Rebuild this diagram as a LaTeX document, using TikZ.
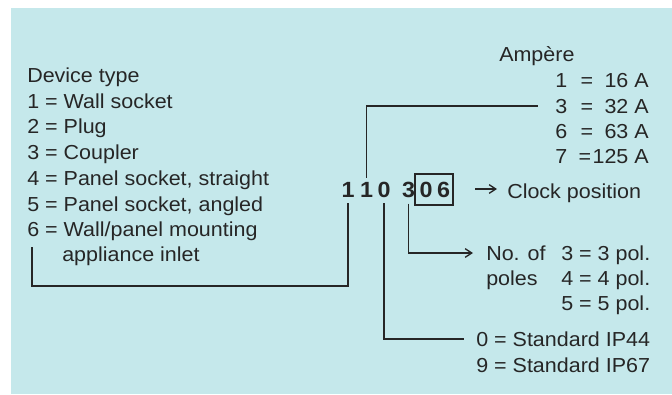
\documentclass[tikz,border=0pt]{standalone}
\usepackage{fontspec}
\setmainfont{Liberation Sans}[FakeStretch=1.06]
\usetikzlibrary{arrows.meta}
\definecolor{bg}{RGB}{197,232,235}
\definecolor{ink}{RGB}{38,38,38}
\begin{document}
\begin{tikzpicture}[x=0.75pt,y=-0.75pt,
  txt/.style={anchor=base west, inner sep=0pt, font=\fontsize{15.2}{18}\selectfont, text=ink},
  txtr/.style={txt, anchor=base east},
  txtc/.style={txt, anchor=base},
  dig/.style={anchor=base, inner sep=0pt, font=\fontsize{16.5}{18}\selectfont\bfseries, text=ink},
  wire/.style={draw=ink, line width=1pt},
  arr/.style={wire, -{Straight Barb[length=5pt,width=6.5pt]}}]
\useasboundingbox (0,0) rectangle (672,394);
\fill[bg] (11,8) rectangle (672,394);

% left list
\node[txt] (dev) at (27,82) {Device type};
\node[txt] (t1) at (27,108) {1 = Wall socket};
\node[txt] (t2) at (27,133) {2 = Plug};
\node[txt] (t3) at (27,159) {3 = Coupler};
\node[txt] (t4) at (27,185) {4 = Panel socket, straight};
\node[txt] (t5) at (27,211) {5 = Panel socket, angled};
\node[txt] (t6) at (27,236) {6 = Wall/panel mounting};
\node[txt] (t6b) at (62,261) {appliance inlet};

% ampere
\node[txt] (amp) at (499,61) {Ampère};
\node[txt] (a1n) at (555,87) {1};
\node[txtc] (a1e) at (587,87) {=};
\node[txtr] (a1v) at (649,87) {16 A};
\node[txt] (a2n) at (555,113) {3};
\node[txtc] (a2e) at (587,113) {=};
\node[txtr] (a2v) at (649,113) {32 A};
\node[txt] (a3n) at (555,138) {6};
\node[txtc] (a3e) at (587,138) {=};
\node[txtr] (a3v) at (649,138) {63 A};
\node[txt] (a4n) at (555,163) {7};
\node[txtc] (a4e) at (585,163) {=};
\node[txtr] (a4v) at (649,163) {125 A};

% code
\node[dig] (d1) at (348,197) {1};
\node[dig] (d2) at (366.5,197) {1};
\node[dig] (d3) at (384,197) {0};
\node[dig] (d4) at (408.5,197) {3};
\node[dig] (d5) at (426,197) {0};
\node[dig] (d6) at (443.5,197) {6};
\node[wire, minimum width=28.5pt, minimum height=23.25pt, inner sep=0pt] (box) at (434,189.5) {};

% clock
\node[txt] (clock) at (507,198) {Clock position};
\coordinate (ck0) at (475,189);
\draw[arr] (ck0) -- (clock.west |- ck0) [shorten >=7.5pt];

% poles
\node[txt] (noof) at (486,260) {No. of};
\node[txt] (poles) at (486,285) {poles};
\node[txt] (p3) at (561,260) {3 = 3 pol.};
\node[txt] (p4) at (561,285) {4 = 4 pol.};
\node[txt] (p5) at (561,310) {5 = 5 pol.};

% IP
\node[txt] (ip44) at (476,346) {0 = Standard IP44};
\node[txt] (ip67) at (476,372) {9 = Standard IP67};

% connectors
\coordinate (devCorner) at (32,286);
\coordinate (devEnd) at (32,247);
\draw[wire] ([yshift=-4.5pt]d1.south) |- (devCorner) -- (devEnd);

\coordinate (ampEnd) at (538,106);
\draw[wire] ([yshift=3pt]d2.north) |- (ampEnd);

\coordinate (ipEnd) at (464,339);
\draw[wire] ([yshift=-4.5pt]d3.south) |- (ipEnd);

\coordinate (polEnd) at (473,253);
\draw[arr] ([yshift=-4.5pt]d4.south) |- (polEnd);
\end{tikzpicture}
\end{document}
